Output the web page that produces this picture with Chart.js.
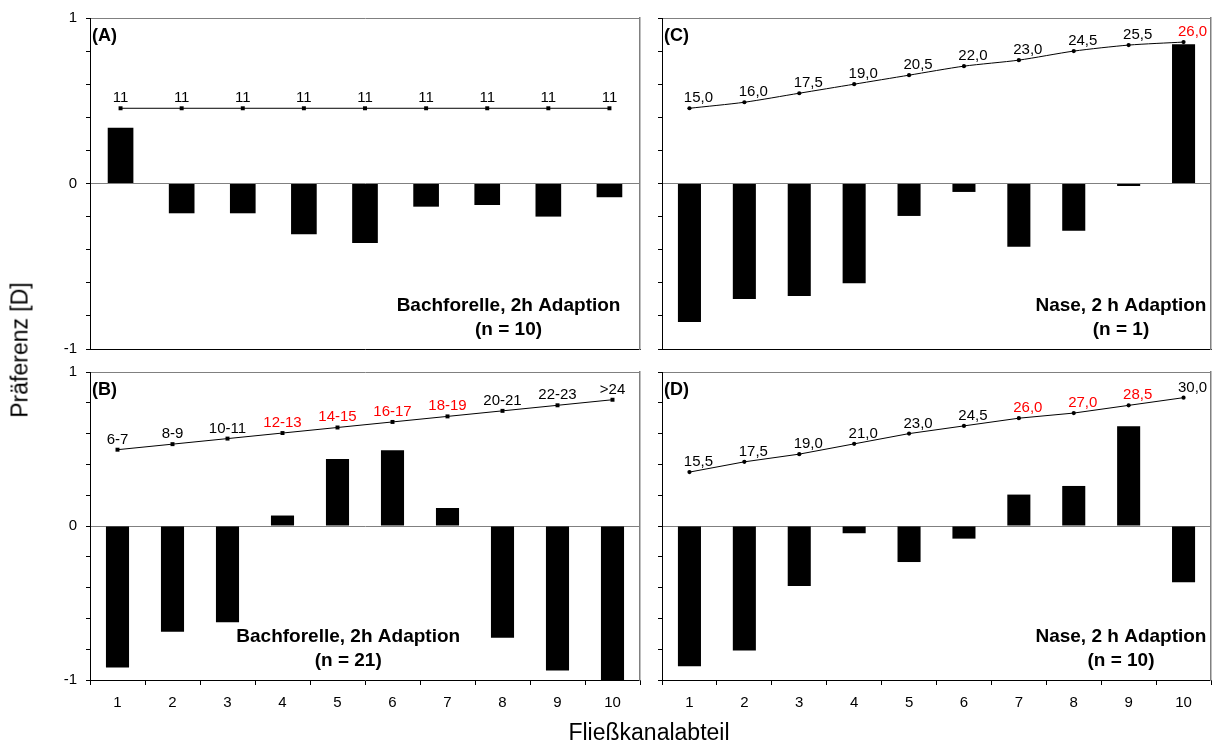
<!DOCTYPE html>
<html>
<head>
<meta charset="utf-8">
<script src="https://cdn.jsdelivr.net/npm/chart.js@4.4.0/dist/chart.umd.min.js"></script>
<style>
html,body{margin:0;padding:0;background:#fff;}
#wrap{position:relative;width:1215px;height:743px;overflow:hidden;font-family:"Liberation Sans",Arial,sans-serif;}
canvas{position:absolute;}
.title{position:absolute;font-size:23px;line-height:23px;color:#000;white-space:nowrap;}
#xt{left:649px;top:721px;transform:translateX(-50%);}
#yt{left:20px;top:350px;transform:translate(-50%,-50%) rotate(-90deg);}
</style>
</head>
<body>
<div id="wrap">
<canvas id="cA" style="left:0px;top:0px" width="650" height="360"></canvas>
<canvas id="cC" style="left:650px;top:0px" width="565" height="360"></canvas>
<canvas id="cB" style="left:0px;top:360px" width="650" height="383"></canvas>
<canvas id="cD" style="left:650px;top:360px" width="565" height="383"></canvas>
<div class="title" id="xt">Fließkanalabteil</div>
<div class="title" id="yt">Präferenz [D]</div>
</div>
<script>
// ---- data ----
const categories = ['1','2','3','4','5','6','7','8','9','10'];
const categoriesA = ['1','2','3','4','5','6','7','8','9'];

// Panel A: Bachforelle, 2h Adaption (n = 10) - 9 compartments
const barsA = [0.337, -0.18, -0.18, -0.307, -0.36, -0.14, -0.13, -0.20, -0.083];
const lineA = [11, 11, 11, 11, 11, 11, 11, 11, 11];
const labelsA = ['11','11','11','11','11','11','11','11','11'];
const redA = [];

// Panel B: Bachforelle, 2h Adaption (n = 21)
const barsB = [-0.919, -0.686, -0.625, 0.068, 0.435, 0.492, 0.117, -0.725, -0.939, -1.0];
const lineB = [6.5, 8.5, 10.5, 12.5, 14.5, 16.5, 18.5, 20.5, 22.5, 24.5];
const labelsB = ['6-7','8-9','10-11','12-13','14-15','16-17','18-19','20-21','22-23','>24'];
const redB = [3, 4, 5, 6];

// Panel C: Nase, 2 h Adaption (n = 1)
const barsC = [-0.837, -0.698, -0.680, -0.603, -0.196, -0.051, -0.382, -0.285, -0.015, 0.841];
const lineC = [15.0, 16.0, 17.5, 19.0, 20.5, 22.0, 23.0, 24.5, 25.5, 26.0];
const redC = [9];

// Panel D: Nase, 2 h Adaption (n = 10)
const barsD = [-0.911, -0.809, -0.390, -0.047, -0.234, -0.082, 0.204, 0.260, 0.647, -0.366];
const lineD = [15.5, 17.5, 19.0, 21.0, 23.0, 24.5, 26.0, 27.0, 28.5, 30.0];
const redD = [6, 7, 8];

const yTickLabels = {'1':'1','0':'0','-1':'-1'};

// ---- helpers ----
const FONT = '"Liberation Sans", Arial, sans-serif';
const fmt = v => v.toFixed(1).replace('.', ',');
const near = (a, b) => Math.abs(a - b) < 1e-9;

const panelText = {
  id: 'panelText',
  afterDatasetsDraw(chart, args, o) {
    const ctx = chart.ctx, a = chart.chartArea;
    ctx.save();
    const meta = chart.getDatasetMeta(1);
    ctx.font = '15px ' + FONT;
    ctx.textAlign = 'center';
    ctx.textBaseline = 'alphabetic';
    meta.data.forEach((pt, i) => {
      ctx.fillStyle = o.red.includes(i) ? '#ff0000' : '#000000';
      ctx.fillText(o.texts[i], pt.x + o.dx, pt.y - o.dy);
    });
    ctx.fillStyle = '#000';
    ctx.font = 'bold 18px ' + FONT;
    ctx.textAlign = 'left';
    ctx.fillText(o.letter, a.left + 2, a.top + 23);
    ctx.font = 'bold 19px ' + FONT;
    ctx.textAlign = 'center';
    ctx.textBaseline = 'middle';
    const cx = a.left + o.noteX * (a.right - a.left);
    ctx.fillText(o.note[0], cx, a.bottom - 43);
    ctx.fillText(o.note[1], cx, a.bottom - 19);
    ctx.restore();
  }
};

function zeroPad(s) { s.paddingTop = 0; s.paddingBottom = 0; s.paddingLeft = 0; s.paddingRight = 0; }

function makePanel(id, p) {
  const canvas = document.getElementById(id);
  const H = canvas.height;
  return new Chart(canvas, {
    type: 'bar',
    data: {
      labels: p.cats,
      datasets: [
        {
          type: 'bar', data: p.bars, yAxisID: 'y', order: 2,
          backgroundColor: '#000000', borderWidth: 0,
          barPercentage: p.barPct, categoryPercentage: 1
        },
        {
          type: 'line', data: p.line, yAxisID: 'y2', order: 0,
          borderColor: '#000000', borderWidth: 1, tension: p.tension,
          pointStyle: p.pointStyle, pointRadius: p.pointRadius,
          pointBackgroundColor: '#000000', pointBorderWidth: 0, clip: false
        }
      ]
    },
    options: {
      responsive: false,
      animation: false,
      events: [],
      layout: { padding: { top: p.top, right: p.right, left: 0, bottom: 0 } },
      plugins: {
        legend: { display: false },
        tooltip: { enabled: false },
        panelText: { texts: p.texts, red: p.red, dx: p.dx, dy: 6, letter: p.letter, note: p.note, noteX: p.noteX }
      },
      scales: {
        x: {
          type: 'category', offset: true,
          grid: { offset: true, drawOnChartArea: false, drawTicks: p.xTicks, tickLength: 5, tickColor: '#000', color: '#000', lineWidth: 1 },
          border: { display: true, color: '#000', width: 1 },
          ticks: { display: p.xTicks, font: { family: FONT, size: 15 }, color: '#000', padding: 9, maxRotation: 0, autoSkip: false },
          afterFit(s) { s.height = H - p.bottom; zeroPad(s); }
        },
        y: {
          position: 'left', min: -1, max: 1,
          grid: {
            drawOnChartArea: true, drawTicks: true, tickLength: 4, tickColor: '#000', lineWidth: 1,
            color(c) { const v = c.tick ? c.tick.value : NaN; return (near(v, 0) || near(v, 1)) ? '#808080' : 'rgba(0,0,0,0)'; }
          },
          border: { display: true, color: '#000', width: 1 },
          ticks: {
            stepSize: 0.2, autoSkip: false, padding: 9, color: '#000',
            font: { family: FONT, size: 15 },
            callback(v) {
              if (!p.yLabels) return '';
              if (near(v, 1)) return yTickLabels['1'];
              if (near(v, 0)) return yTickLabels['0'];
              if (near(v, -1)) return yTickLabels['-1'];
              return '';
            }
          },
          afterFit(s) { s.width = p.left; zeroPad(s); }
        },
        y2: {
          position: 'right', min: p.y2min, max: p.y2max, display: true,
          ticks: { display: false },
          grid: { drawOnChartArea: false, drawTicks: false },
          border: { display: true, color: '#808080', width: 1.5 },
          afterFit(s) { s.width = 0; zeroPad(s); }
        }
      }
    },
    plugins: [panelText]
  });
}

makePanel('cA', {
  cats: categoriesA, bars: barsA, line: lineA, texts: labelsA, red: redA,
  barPct: 0.42, tension: 0, pointStyle: 'rect', pointRadius: 2.8, dx: 0,
  letter: '(A)', note: ['Bachforelle, 2h Adaption', '(n = 10)'], noteX: 0.761,
  top: 18, right: 10, left: 90, bottom: 349, xTicks: false, yLabels: true,
  y2min: -13, y2max: 20
});
makePanel('cC', {
  cats: categories, bars: barsC, line: lineC, texts: lineC.map(fmt), red: redC,
  barPct: 0.42, tension: 0.25, pointStyle: 'circle', pointRadius: 2.1, dx: 9,
  letter: '(C)', note: ['Nase, 2 h Adaption', '(n = 1)'], noteX: 0.836,
  top: 18, right: 4, left: 12, bottom: 349, xTicks: false, yLabels: false,
  y2min: -25, y2max: 30
});
makePanel('cB', {
  cats: categories, bars: barsB, line: lineB, texts: labelsB, red: redB,
  barPct: 0.42, tension: 0, pointStyle: 'rect', pointRadius: 2.8, dx: 0,
  letter: '(B)', note: ['Bachforelle, 2h Adaption', '(n = 21)'], noteX: 0.4695,
  top: 12, right: 10, left: 90, bottom: 320, xTicks: true, yLabels: true,
  y2min: -76.5, y2max: 34.5
});
makePanel('cD', {
  cats: categories, bars: barsD, line: lineD, texts: lineD.map(fmt), red: redD,
  barPct: 0.42, tension: 0, pointStyle: 'circle', pointRadius: 2.1, dx: 9,
  letter: '(D)', note: ['Nase, 2 h Adaption', '(n = 10)'], noteX: 0.836,
  top: 12, right: 4, left: 12, bottom: 320, xTicks: true, yLabels: false,
  y2min: -25, y2max: 35
});
</script>
</body>
</html>
